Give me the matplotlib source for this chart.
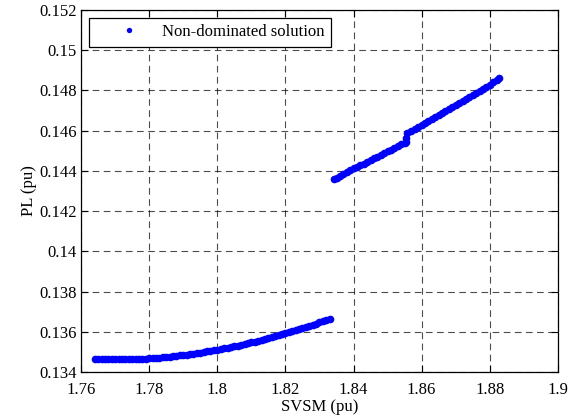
import matplotlib
matplotlib.use('Agg')
from matplotlib import pyplot as plt

# lower branch of the front
svsm_low = [1.764, 1.765, 1.766, 1.767, 1.768, 1.769, 1.770, 1.771, 1.772, 1.773,
            1.774, 1.775, 1.776, 1.777, 1.778, 1.779, 1.780, 1.781, 1.782, 1.783,
            1.784, 1.785, 1.786, 1.787, 1.788, 1.789, 1.790, 1.791, 1.792, 1.793,
            1.794, 1.795, 1.796, 1.797, 1.798, 1.799, 1.800, 1.801, 1.802, 1.803,
            1.804, 1.805, 1.806, 1.807, 1.808, 1.809, 1.810, 1.811, 1.812, 1.813,
            1.814, 1.815, 1.816, 1.817, 1.818, 1.819, 1.820, 1.821, 1.822, 1.823,
            1.824, 1.825, 1.826, 1.827, 1.828, 1.829, 1.830, 1.831, 1.832, 1.833]
pl_low = [0.13462, 0.13462, 0.13462, 0.13462, 0.13462, 0.13462, 0.13462, 0.13462, 0.13463, 0.13463,
          0.13463, 0.13464, 0.13465, 0.13465, 0.13466, 0.13466, 0.13467, 0.13468, 0.13470, 0.13471,
          0.13473, 0.13474, 0.13476, 0.13478, 0.13480, 0.13482, 0.13484, 0.13486, 0.13489, 0.13491,
          0.13494, 0.13496, 0.13499, 0.13502, 0.13505, 0.13508, 0.13511, 0.13514, 0.13518, 0.13521,
          0.13524, 0.13528, 0.13531, 0.13535, 0.13539, 0.13543, 0.13547, 0.13551, 0.13555, 0.13559,
          0.13564, 0.13568, 0.13573, 0.13578, 0.13583, 0.13588, 0.13594, 0.13599, 0.13604, 0.13609,
          0.13614, 0.13619, 0.13625, 0.13630, 0.13636, 0.13641, 0.13646, 0.13651, 0.13656, 0.13661]

# upper branch
svsm_high = [1.8344, 1.835, 1.836, 1.837, 1.838, 1.839, 1.840, 1.841, 1.842, 1.843,
             1.844, 1.845, 1.846, 1.847, 1.848, 1.849, 1.850, 1.851, 1.852, 1.853,
             1.854, 1.855, 1.8554, 1.8555, 1.8556, 1.857, 1.858, 1.859, 1.860, 1.861, 1.862,
             1.863, 1.864, 1.865, 1.866, 1.867, 1.868, 1.869, 1.870, 1.871, 1.872,
             1.873, 1.874, 1.875, 1.876, 1.877, 1.878, 1.879, 1.880, 1.881, 1.882, 1.8827]
pl_high = [0.14362, 0.14367, 0.14376, 0.14385, 0.14394, 0.14403, 0.14412, 0.14420, 0.14428, 0.14436,
           0.14445, 0.14453, 0.14462, 0.14471, 0.14480, 0.14488, 0.14497, 0.14505, 0.14514, 0.14523,
           0.14532, 0.14540, 0.14544, 0.14565, 0.14586, 0.14596, 0.14607, 0.14617, 0.14627, 0.14636, 0.14646,
           0.14656, 0.14666, 0.14676, 0.14686, 0.14696, 0.14706, 0.14717, 0.14727, 0.14737, 0.14747,
           0.14758, 0.14768, 0.14778, 0.14788, 0.14799, 0.14809, 0.14819, 0.14829, 0.14840, 0.14850, 0.14860]

xticks = [1.76, 1.78, 1.8, 1.82, 1.84, 1.86, 1.88, 1.9]
xticklabels = ['1.76', '1.78', '1.8', '1.82', '1.84', '1.86', '1.88', '1.9']
yticks = [0.134, 0.136, 0.138, 0.14, 0.142, 0.144, 0.146, 0.148, 0.15, 0.152]
yticklabels = ['0.134', '0.136', '0.138', '0.14', '0.142', '0.144', '0.146', '0.148', '0.15', '0.152']

plt.rcParams['font.family'] = ['Liberation Serif', 'DejaVu Serif']
plt.rcParams['font.size'] = 12

fig = plt.figure(figsize=(5.71, 4.17), dpi=100)
ax = fig.add_axes([0.142, 0.108, 0.835, 0.868])

ax.plot(svsm_low + svsm_high, pl_low + pl_high, 'o', color='#0000ff', markersize=5.5,
        markeredgewidth=0, label='Non-dominated solution')

ax.set_xlim(1.76, 1.9)
ax.set_ylim(0.134, 0.152)
ax.set_xticks(xticks)
ax.set_xticklabels(xticklabels)
ax.set_yticks(yticks)
ax.set_yticklabels(yticklabels)
ax.tick_params(axis='both', direction='in', top=True, right=True, length=5, width=0.8)
ax.tick_params(axis='y', pad=3)
ax.tick_params(axis='x', pad=7)
ax.grid(True, color='black', linestyle=(0, (6, 4)), linewidth=0.8, alpha=0.7)
for s in ax.spines.values():
    s.set_linewidth(0.9)

ax.set_xlabel('SVSM (pu)', labelpad=1)
ax.set_ylabel('PL (pu)', labelpad=2)

leg = ax.legend(loc='upper left', fontsize=12, frameon=True, fancybox=False,
                edgecolor='black', framealpha=1, markerscale=0.7,
                borderaxespad=0.45, handletextpad=0.0, borderpad=0.4, handlelength=4)
leg.get_frame().set_linewidth(0.9)

fig.savefig('out.png', dpi=100)
